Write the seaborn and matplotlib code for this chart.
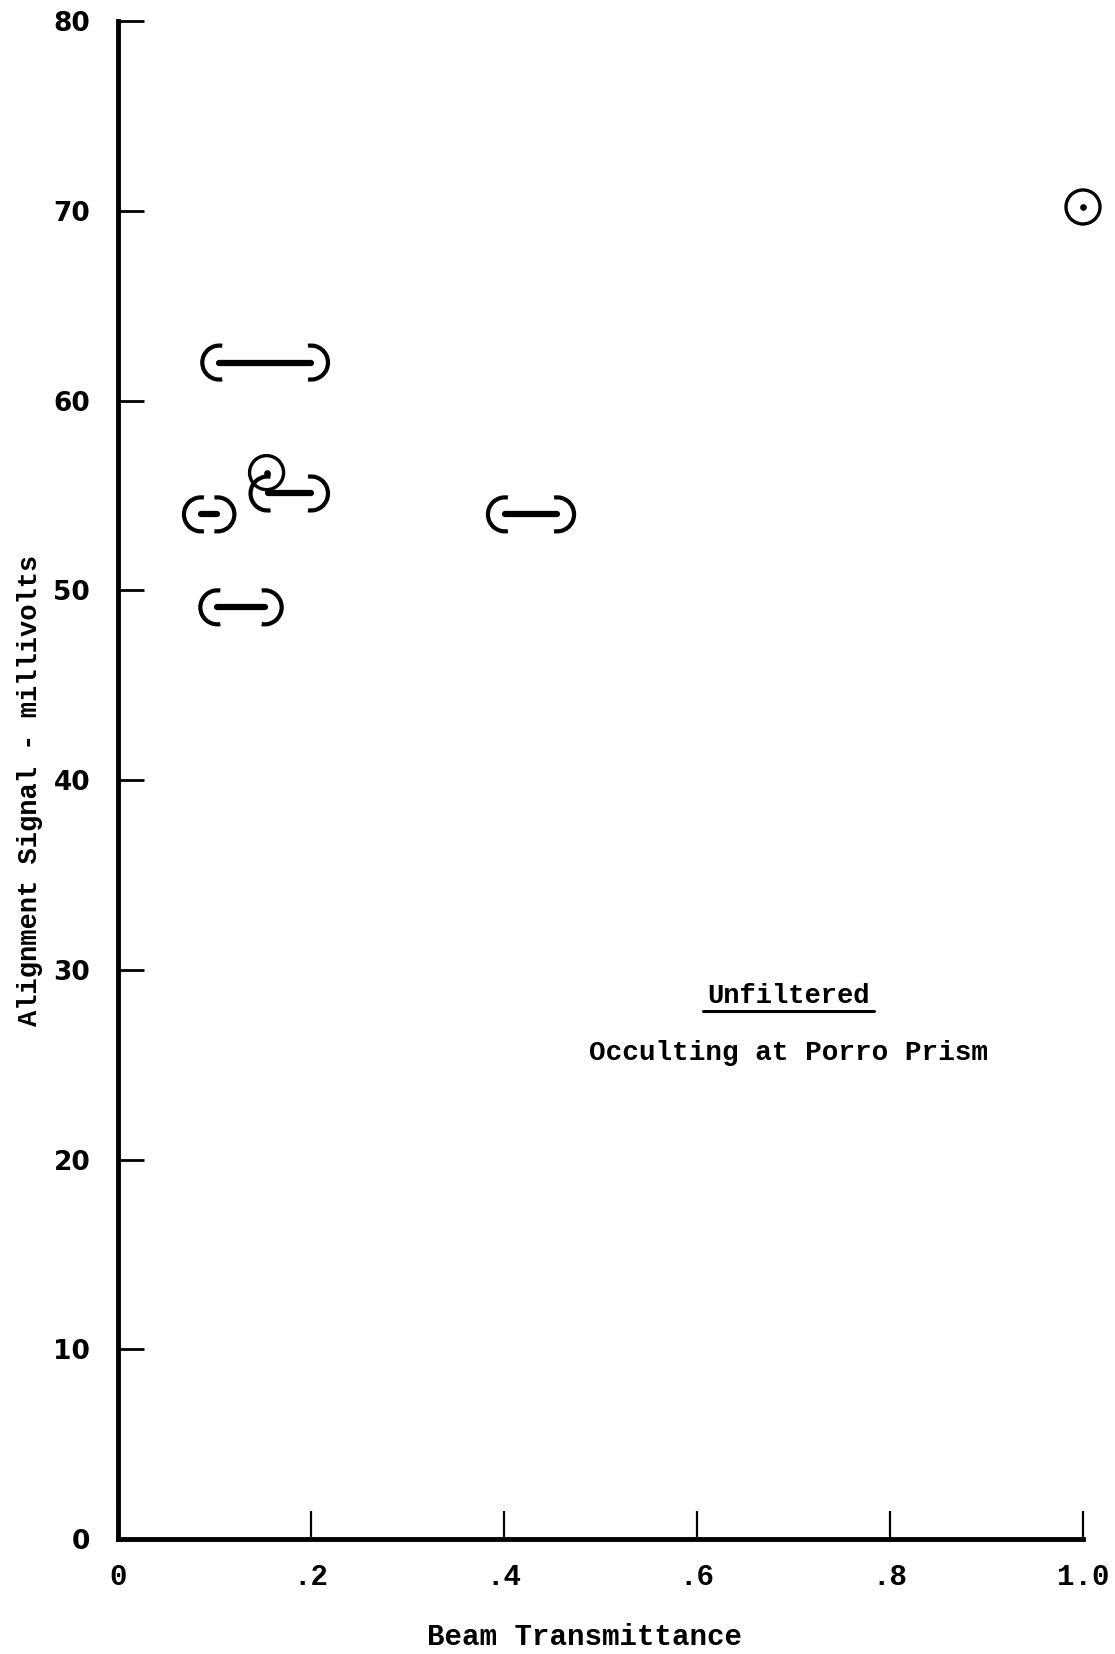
import numpy as np
import matplotlib
matplotlib.use("Agg")
import matplotlib.pyplot as plt
from matplotlib.path import Path
from matplotlib.markers import MarkerStyle
import seaborn as sns

# ---------------- data ----------------
circle_x = [1.0, 0.154]
circle_y = [70.2, 56.2]

range_lo = [0.105, 0.155, 0.086, 0.103, 0.401]
range_hi = [0.200, 0.200, 0.103, 0.152, 0.455]
range_y = [62.0, 55.1, 54.0, 49.1, 54.0]

x_ticks = [0.0, 0.2, 0.4, 0.6, 0.8, 1.0]
x_tick_labels = ["0", ".2", ".4", ".6", ".8", "1.0"]
y_ticks = [0, 10, 20, 30, 40, 50, 60, 70, 80]
y_tick_labels = ["0", "10", "20", "30", "40", "50", "60", "70", "80"]

x_label = "Beam Transmittance"
y_label = "Alignment Signal - millivolts"
note_title = "Unfiltered"
note_sub = "Occulting at Porro Prism"
note_x = 0.695
note_title_y = 28.6
note_sub_y = 25.6

# ---------------- style ----------------
sns.set_style("white")
plt.rcParams["font.family"] = ["Liberation Mono", "DejaVu Sans"]

fig = plt.figure(figsize=(11.15, 16.54), dpi=100)
ax = fig.add_axes([0.1058, 0.0695, 0.8655, 0.9178])

ax.set_xlim(0, 1.0)
ax.set_ylim(0, 80)

for side in ["top", "right"]:
    ax.spines[side].set_visible(False)
for side in ["left", "bottom"]:
    ax.spines[side].set_linewidth(3.5)
    ax.spines[side].set_color("black")
    ax.spines[side].set_capstyle("projecting")

ax.set_xticks(x_ticks)
ax.set_xticklabels(x_tick_labels, fontfamily="Liberation Mono",
                   fontweight="bold", fontsize=21)
ax.set_yticks(y_ticks)
ax.set_yticklabels(y_tick_labels, fontfamily="DejaVu Sans",
                   fontweight="bold", fontsize=19)
ax.tick_params(axis="x", direction="in", length=20, width=1.6,
               pad=17, colors="black", bottom=True)
ax.tick_params(axis="y", direction="in", length=19, width=2.0,
               pad=20, colors="black", left=True)

# ---------------- marks ----------------
# horizontal range bars
ax.hlines(range_y, range_lo, range_hi, colors="black", linewidth=4.5,
          capstyle="round", zorder=3)

# parenthesis-shaped end markers
left_path = Path.arc(80, 280)
right_path = Path.arc(-100, 100)
lscale = np.max(np.abs(left_path.vertices))
rscale = np.max(np.abs(right_path.vertices))
paren_d = 24.5  # diameter of paren arc in points
sns.scatterplot(x=range_lo, y=range_y, marker=MarkerStyle(left_path),
                s=(paren_d * lscale) ** 2, facecolor="none",
                edgecolor="black", linewidth=3.0, ax=ax, zorder=4,
                clip_on=False, legend=False)
sns.scatterplot(x=range_hi, y=range_y, marker=MarkerStyle(right_path),
                s=(paren_d * rscale) ** 2, facecolor="none",
                edgecolor="black", linewidth=3.0, ax=ax, zorder=4,
                clip_on=False, legend=False)

# circle-dot markers
sns.scatterplot(x=circle_x, y=circle_y, marker="o", s=24.5 ** 2,
                facecolor="none", edgecolor="black", linewidth=2.4,
                ax=ax, zorder=5, clip_on=False, legend=False)
sns.scatterplot(x=circle_x, y=circle_y, marker="o", s=4.8 ** 2,
                color="black", edgecolor="black", linewidth=0,
                ax=ax, zorder=6, clip_on=False, legend=False)

# ---------------- labels ----------------
ax.set_xlabel(x_label, fontfamily="Liberation Mono", fontweight="bold",
              fontsize=21, color="black")
ax.xaxis.label.set_va("center")
ax.xaxis.set_label_coords(0.483, -0.0646)

ax.set_ylabel(y_label, fontfamily="Liberation Mono", fontweight="bold",
              fontsize=19.5, color="black")
ax.yaxis.label.set_va("center")
ax.yaxis.set_label_coords(-0.091, 0.493)

t1 = ax.text(note_x, note_title_y, note_title, ha="center", va="center",
             fontfamily="Liberation Mono", fontweight="bold", fontsize=19.5,
             color="black")
t2 = ax.text(note_x, note_sub_y, note_sub, ha="center", va="center",
             fontfamily="Liberation Mono", fontweight="bold", fontsize=20,
             color="black")

# underline for the title text
fig.canvas.draw()
bb = t1.get_window_extent(renderer=fig.canvas.get_renderer())
inv = ax.transData.inverted()
(ux0, uy), (ux1, _) = inv.transform([(bb.x0 - 4, bb.y0 - 2), (bb.x1 + 4, bb.y0 - 2)])
ax.plot([ux0, ux1], [uy, uy], color="black", linewidth=2.2, zorder=3)

fig.savefig("out.png", dpi=100, facecolor="white")
